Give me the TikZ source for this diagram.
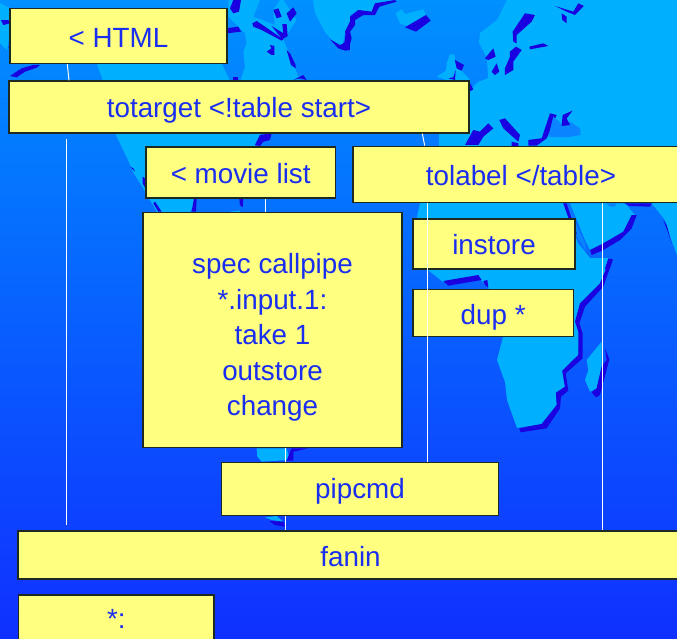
\documentclass[tikz,border=0pt]{standalone}
\usepackage{fontspec}
\setmainfont{Liberation Sans}
\definecolor{seatop}{HTML}{0090FF}
\definecolor{seabot}{HTML}{1030FF}
\definecolor{landc}{HTML}{00B0FF}
\definecolor{shadowc}{HTML}{1A00E0}
\definecolor{midc}{HTML}{0A84FF}
\definecolor{boxc}{HTML}{FFFF80}
\definecolor{inkc}{HTML}{1A2EF0}
\definecolor{edgec}{HTML}{1E2A20}
\tikzset{
  stagebox/.style={draw=edgec,line width=1.2pt,fill=boxc,text=inkc,inner sep=0pt,
    font=\fontsize{27.8}{35.5}\selectfont,align=center,text height=24pt,text depth=5pt},
  wire/.style={draw=white,line width=1pt},
  land/.style={fill=landc},
  shade2/.style={fill=shadowc},
  mid/.style={fill=midc},
  z2/.style={shift={(340,0)},x=.3333pt,y=-.3333pt},
  z3/.style={shift={(400,200)},x=.3333pt,y=-.3333pt},
  z4/.style={shift={(0,440)},x=.3333pt,y=-.3333pt},
  z5/.style={shift={(225,0)},x=.3333pt,y=-.3333pt},
  z6/.style={shift={(0,0)},x=.3333pt,y=-.3333pt},
  z8/.style={shift={(100,130)},x=.3333pt,y=-.3333pt},
  z9/.style={shift={(555,200)},x=.3333pt,y=-.3333pt},
}
\begin{document}
\begin{tikzpicture}[x=1pt,y=-1pt]
\useasboundingbox (0,0) rectangle (677,638);
\clip (0,0) rectangle (677,638);
\shade[top color=seatop,bottom color=seabot,shading angle=0] (0,0) rectangle (677,638);
% --- map: land masses
\fill[land] (507,0) -- (497,20) -- (480,33) -- (479,43) -- (487,58) -- (488,78) -- (478,82) -- (470,90) -- (470,110)
  -- (439,133) -- (439,147) -- (420,203) -- (417,217) -- (428,270) -- (443,282) -- (478,277) -- (488,287)
  -- (503,337) -- (497,360) -- (505,382) -- (507,400) -- (517,428) -- (542,424) -- (557,405) -- (556,393)
  -- (565,387) -- (562,371) -- (578,355) -- (580,333) -- (576,323) -- (580,308) -- (600,283) -- (611,258)
  -- (590,258) -- (578,243) -- (563,203) -- (563,190) -- (677,190) -- (677,0) -- cycle;
\fill[land] (97,64) -- (103,81) -- (115,133) -- (128,160) -- (133,172) -- (143,188) -- (157,212) -- (190,212)
  -- (197,198) -- (255,146) -- (262,133) -- (240,110) -- (230,81) -- (222,64) -- cycle;
\fill[land] (0,3) -- (10,8) -- (10,33) -- (7,50) -- (0,43) -- cycle;
\fill[land] (313,0) -- (315,13) -- (325,32) -- (332,40) -- (342,47) -- (345,32) -- (350,22) -- (350,15) -- (358,10)
  -- (372,12) -- (375,3) -- (395,0) -- cycle;
\begin{scope}[z5]
\fill[land] (10,0) -- (105,0) -- (85,50) -- (150,75) -- (145,30) -- (165,0) -- (175,0) -- (215,60) -- (175,120)
  -- (205,190) -- (225,245) -- (45,245) -- (60,200) -- (55,155) -- (65,130) -- (60,100) -- (10,50) -- cycle;
\fill[shade2] (145,30) -- (160,25) -- (170,50) -- (155,55) -- cycle;
\fill[shade2] (185,40) -- (205,22) -- (215,40) -- (195,65) -- cycle;
\fill[shade2] (82,70) -- (95,63) -- (175,118) -- (170,122) -- (110,90) -- (85,80) -- cycle;
\fill[shade2] (140,78) -- (175,100) -- (172,72) -- (185,72) -- (188,108) -- (172,118) -- cycle;
\fill[shade2] (125,155) -- (140,145) -- (135,135) -- (148,138) -- (148,165) -- (140,165) -- cycle;
\fill[shade2] (185,150) -- (195,160) -- (212,195) -- (212,205) -- (198,195) -- cycle;
\fill[shade2] (205,240) -- (235,225) -- (245,240) -- (225,235) -- cycle;
\fill[shade2] (5,85) -- (40,80) -- (48,95) -- (5,100) -- cycle;
\fill[shade2] (15,25) -- (25,0) -- (48,0) -- (42,35) -- (25,40) -- cycle;
\fill[shade2] (25,230) -- (38,230) -- (38,243) -- (25,243) -- cycle;
\fill[shade2] (315,118) -- (345,135) -- (358,130) -- (362,100) -- (375,85) -- (375,150) -- (360,152) -- (340,145) -- cycle;
\end{scope}
\begin{scope}[z6]
\fill[shade2] (3,60) -- (25,60) -- (30,70) -- (10,75) -- cycle;
\fill[shade2] (25,140) -- (32,140) -- (32,155) -- cycle;
\fill[shade2] (30,228) -- (65,205) -- (100,195) -- (120,195) -- (110,203) -- (75,215) -- (50,232) -- cycle;
\end{scope}
\begin{scope}[z2]
\fill[shade2] (165,0) -- (105,10) -- (95,35) -- (55,30) -- (30,50) -- (30,65) -- (15,95) -- (22,120) -- (0,138)
  -- (25,150) -- (35,115) -- (30,95) -- (45,75) -- (45,60) -- (70,45) -- (105,45) -- (118,20) -- (170,5) -- cycle;
\fill[land] (167,40) -- (185,28) -- (195,42) -- (250,28) -- (258,45) -- (200,78) -- (180,70) -- cycle;
\fill[shade2] (195,82) -- (258,45) -- (272,62) -- (228,95) -- cycle;
\fill[land] (320,190) -- (330,162) -- (345,165) -- (345,190) -- (390,240) -- (320,240) -- (290,230) -- (318,212) -- cycle;
\fill[shade2] (345,180) -- (372,195) -- (365,212) -- (350,205) -- cycle;
\fill[shade2] (325,235) -- (345,240) -- (347,210) -- (340,232) -- cycle;
\fill[shade2] (385,240) -- (388,275) -- (400,268) -- cycle;
% Scandinavia and Baltic
\fill[shade2] (555,40) -- (585,45) -- (575,65) -- (530,105) -- (530,130) -- (520,125) -- (518,95) -- cycle;
\fill[shade2] (510,155) -- (528,140) -- (545,150) -- (520,185) -- (520,210) -- (495,225) -- (495,205) -- (510,170) -- cycle;
\fill[shade2] (435,175) -- (460,145) -- (467,170) -- (445,180) -- cycle;
\fill[shade2] (455,215) -- (470,190) -- (478,215) -- (465,225) -- cycle;
\fill[shade2] (568,140) -- (610,130) -- (625,138) -- (570,148) -- cycle;
\fill[shade2] (645,18) -- (700,35) -- (715,10) -- (732,18) -- (705,45) -- (680,35) -- cycle;
\fill[shade2] (665,40) -- (680,50) -- (680,70) -- (667,60) -- cycle;
% Mediterranean
\fill[shade2] (375,435) -- (400,390) -- (420,395) -- (445,370) -- (460,385) -- (430,410) -- (415,435) -- cycle;
\fill[shade2] (478,360) -- (495,355) -- (540,405) -- (535,425) -- (490,385) -- cycle;
\fill[shade2] (515,425) -- (535,430) -- (535,440) -- (515,440) -- cycle;
\fill[shade2] (565,420) -- (605,415) -- (630,340) -- (650,345) -- (620,415) -- (590,437) -- (565,437) -- cycle;
\fill[mid] (640,350) -- (668,375) -- (690,365) -- (720,385) -- (722,405) -- (680,412) -- (625,410) -- cycle;
\fill[shade2] (668,345) -- (698,332) -- (680,355) -- (690,375) -- (665,378) -- cycle;
\end{scope}
\begin{scope}[z3]
% Africa shadows
\fill[shade2] (638,180) -- (632,175) -- (600,250) -- (540,310) -- (525,365) -- (535,395) -- (535,465) -- (487,512)
  -- (495,560) -- (468,578) -- (470,615) -- (425,672) -- (358,685) -- (362,697) -- (440,685) -- (480,625) -- (483,590)
  -- (505,572) -- (497,520) -- (548,475) -- (548,400) -- (538,370) -- (555,320) -- (610,260) -- cycle;
\fill[shade2] (130,243) -- (235,225) -- (245,240) -- (145,257) -- cycle;
\fill[shade2] (250,243) -- (262,240) -- (265,262) -- (255,255) -- cycle;
% Madagascar
\fill[land] (605,425) -- (560,480) -- (565,510) -- (555,540) -- (570,575) -- (590,565) -- (605,500) -- cycle;
\fill[shade2] (615,445) -- (628,478) -- (600,585) -- (588,592) -- (575,577) -- (590,565) -- (605,500) -- (620,480) -- cycle;
\end{scope}
\begin{scope}[z9]
\fill[mid] (40,20) -- (90,130) -- (95,155) -- (60,100) -- cycle;
\fill[shade2] (25,10) -- (35,10) -- (65,100) -- (60,110) -- cycle;
\fill[land] (45,10) -- (90,120) -- (105,150) -- (145,135) -- (200,100) -- (225,70) -- (240,45) -- (210,10) -- cycle;
\fill[shade2] (105,150) -- (145,130) -- (205,95) -- (230,45) -- (245,45) -- (230,85) -- (195,120) -- (145,150) -- (110,165) -- cycle;
\fill[mid] (155,10) -- (185,10) -- (180,20) -- (165,20) -- cycle;
\fill[shade2] (208,10) -- (290,10) -- (285,20) -- (225,18) -- cycle;
\fill[land] (290,10) -- (330,60) -- (345,110) -- (366,165) -- (366,0) -- cycle;
\fill[shade2] (325,60) -- (335,75) -- (350,130) -- (340,100) -- cycle;
\fill[shade2] (150,205) -- (160,175) -- (173,178) -- (165,205) -- (155,215) -- cycle;
\end{scope}
\begin{scope}[z8]
\fill[shade2] (465,45) -- (480,15) -- (515,10) -- (510,30) -- (490,35) -- (480,48) -- cycle;
\fill[shade2] (275,245) -- (282,205) -- (290,205) -- (288,245) -- cycle;
\fill[shade2] (418,205) -- (430,205) -- (428,232) -- (420,225) -- cycle;
\fill[shade2] (90,110) -- (100,115) -- (105,125) -- cycle;
\fill[shade2] (128,140) -- (135,145) -- (138,178) -- (128,160) -- cycle;
\fill[shade2] (165,215) -- (185,245) -- (175,245) -- (160,220) -- cycle;
\fill[land] (390,245) -- (420,242) -- (420,250) -- (390,250) -- cycle;
\end{scope}
\begin{scope}[z4]
\fill[land] (770,25) -- (860,25) -- (870,60) -- (785,65) -- (772,50) -- cycle;
\fill[shade2] (860,62) -- (875,25) -- (925,25) -- (880,35) -- (880,62) -- cycle;
\fill[land] (795,232) -- (830,228) -- (850,245) -- (815,240) -- cycle;
\fill[shade2] (808,243) -- (850,245) -- (855,260) -- (825,255) -- cycle;
\end{scope}
% --- boxes
\node[stagebox,minimum width=217pt,minimum height=55pt,text height=28pt] (html) at (118.5,36) {< HTML};
\node[stagebox,minimum width=460pt,minimum height=52pt,text height=26pt] (totarget) at (239,107) {totarget <!table start>};
\node[stagebox,minimum width=189.5pt,minimum height=51pt,text height=26pt] (movie) at (240.7,172.5) {< movie list};
\node[stagebox,minimum width=336pt,minimum height=56.5pt,text height=26pt] (tolabel) at (521,174.5) {tolabel </table>};
\node[stagebox,minimum width=259pt,minimum height=235.5pt,text height=,text depth=] (spec) at (272.5,330) {\rule{0pt}{35pt}spec callpipe\\*.input.1:\\take 1\\outstore\\change};
\node[stagebox,minimum width=162pt,minimum height=50pt,text height=26pt] (instore) at (494,244) {instore};
\node[stagebox,minimum width=160.5pt,minimum height=47pt,text height=28pt] (dup) at (493.2,313) {dup *};
\node[stagebox,minimum width=277pt,minimum height=53.5pt] (pipcmd) at (360,489) {pipcmd};
\node[stagebox,minimum width=665pt,minimum height=48pt,text height=27pt] (fanin) at (350.5,555) {fanin};
\node[stagebox,minimum width=195.5pt,minimum height=48pt] (star) at (116.3,619) {*:};
% --- connectors
\coordinate (wa) at (67.3,0);
\coordinate (wb) at (69,0);
\coordinate (wc) at (66.5,0);
\coordinate (wd) at (265,0);
\coordinate (we) at (422.3,0);
\coordinate (wf) at (424.7,0);
\coordinate (wg) at (427.6,0);
\coordinate (wh) at (602.5,0);
\coordinate (wi) at (285,0);
\draw[wire] (html.south -| wa) -- (totarget.north -| wb);
\draw[wire,shorten <=5pt,shorten >=5pt] (totarget.south -| wc) -- (fanin.north -| wc);
\draw[wire] (movie.south -| wd) -- (spec.north -| wd);
\draw[wire] (totarget.south -| we) -- (tolabel.north -| wf);
\draw[wire] (tolabel.south -| wg) -- (pipcmd.north -| wg);
\draw[wire] (tolabel.south -| wh) -- (fanin.north -| wh);
\draw[wire] (spec.south -| wi) -- (pipcmd.north -| wi);
\draw[wire] (pipcmd.south -| wi) -- (fanin.north -| wi);
\end{tikzpicture}
\end{document}
